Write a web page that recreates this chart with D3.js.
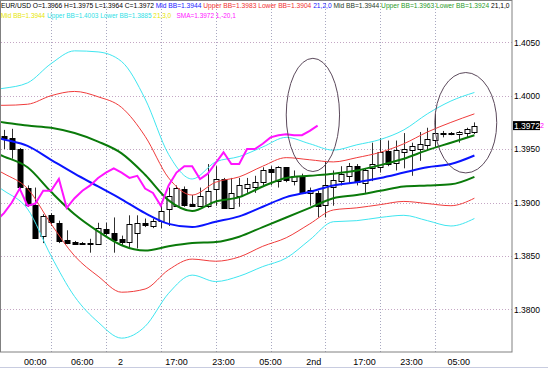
<!DOCTYPE html>
<html>
<head>
<meta charset="utf-8">
<script src="https://cdn.jsdelivr.net/npm/d3@7"></script>
<style>
  body { margin: 0; background: #fff; }
  text { font-family: "Liberation Sans", Arial, sans-serif; }
</style>
</head>
<body>
<div id="chart"></div>
<script>
// EUR/USD H1 candles
const opens = [1.3962,1.3960,1.3950,1.3914,1.3898,1.3868,1.3888,1.3881,1.3865,1.3863,
  1.3862,1.3862,1.3861,1.3875,1.3871,1.3866,1.3863,1.3872,1.3881,1.3878,
  1.3883,1.3894,1.3897,1.3913,1.3899,1.3897,1.3897,1.3913,1.3922,1.3895,
  1.3906,1.3913,1.3914,1.3919,1.3931,1.3920,1.3933,1.3920,1.3924,1.3909,
  1.3909,1.3897,1.3914,1.3920,1.3925,1.3934,1.3918,1.3932,1.3933,1.3948,
  1.3937,1.3947,1.3949,1.3950,1.3953,1.3958,1.3965,1.3965,1.3964,1.3965,1.3966];
const highs = [1.3968,1.3969,1.3951,1.3916,1.3914,1.3889,1.3890,1.3883,1.3874,1.3864,
  1.3863,1.3866,1.3881,1.3881,1.3886,1.3869,1.3888,1.3888,1.3885,1.3885,
  1.3900,1.3914,1.3916,1.3915,1.3907,1.3914,1.3936,1.3934,1.3923,1.3923,
  1.3923,1.3923,1.3925,1.3933,1.3934,1.3934,1.3933,1.3930,1.3927,1.3914,
  1.3911,1.3939,1.3930,1.3934,1.3937,1.3936,1.3932,1.3956,1.3960,1.3958,
  1.3958,1.3965,1.3956,1.3966,1.3970,1.3983,1.3967,1.3966,1.3967,1.3970,1.3975];
const lows = [1.3950,1.3941,1.3911,1.3896,1.3867,1.3862,1.3878,1.3862,1.3861,1.3861,
  1.3861,1.3853,1.3861,1.3869,1.3853,1.3860,1.3858,1.3857,1.3877,1.3876,
  1.3876,1.3878,1.3897,1.3896,1.3896,1.3896,1.3895,1.3897,1.3894,1.3894,
  1.3896,1.3909,1.3909,1.3916,1.3916,1.3914,1.3919,1.3916,1.3908,1.3897,
  1.3886,1.3886,1.3897,1.3916,1.3918,1.3916,1.3909,1.3920,1.3928,1.3934,
  1.3930,1.3932,1.3925,1.3939,1.3949,1.3951,1.3961,1.3963,1.3956,1.3961,1.3964];
const closes = [1.3960,1.3950,1.3914,1.3898,1.3867,1.3887,1.3881,1.3864,1.3862,1.3861,
  1.3862,1.3862,1.3876,1.3871,1.3864,1.3863,1.3880,1.3881,1.3879,1.3883,
  1.3892,1.3906,1.3914,1.3898,1.3897,1.3906,1.3911,1.3922,1.3895,1.3909,
  1.3916,1.3917,1.3919,1.3930,1.3928,1.3933,1.3921,1.3925,1.3909,1.3912,
  1.3897,1.3916,1.3921,1.3927,1.3934,1.3919,1.3930,1.3936,1.3947,1.3936,
  1.3949,1.3950,1.3953,1.3955,1.3959,1.3965,1.3964,1.3964,1.3966,1.3969,1.3972];

// Bollinger bands read at these bar indexes
const bandIdx = [-1,0,3,6,9,12,15,18,21,24,27,30,33,36,39,42,45,48,51,54,57,60];
const cyanUp   = [1.4006,1.4007,1.4012,1.4030,1.4042,1.4041,1.4032,1.3997,1.3945,1.3922,1.3938,1.3943,1.3952,1.3961,1.3955,1.3949,1.3954,1.3959,1.3968,1.3983,1.3995,1.4003];
const redUp    = [1.3991,1.3991,1.3992,1.4000,1.4004,1.3999,1.3989,1.3962,1.3923,1.3907,1.3919,1.3924,1.3934,1.3942,1.3940,1.3938,1.3942,1.3947,1.3955,1.3966,1.3975,1.3983];
const greenUp  = [1.3976,1.3975,1.3972,1.3970,1.3965,1.3957,1.3946,1.3926,1.3902,1.3892,1.3901,1.3905,1.3915,1.3923,1.3925,1.3927,1.3930,1.3935,1.3941,1.3949,1.3956,1.3963];
const midBB    = [1.3961,1.3959,1.3953,1.3940,1.3927,1.3915,1.3903,1.3890,1.3880,1.3877,1.3882,1.3887,1.3896,1.3905,1.3910,1.3916,1.3919,1.3923,1.3928,1.3933,1.3936,1.3944];
const greenLow = [1.3946,1.3943,1.3933,1.3910,1.3889,1.3873,1.3860,1.3855,1.3859,1.3862,1.3863,1.3868,1.3877,1.3886,1.3895,1.3904,1.3907,1.3911,1.3915,1.3916,1.3917,1.3924];
const redLow   = [1.3931,1.3927,1.3913,1.3880,1.3850,1.3831,1.3816,1.3819,1.3837,1.3847,1.3845,1.3849,1.3859,1.3867,1.3880,1.3893,1.3895,1.3898,1.3901,1.3899,1.3897,1.3904];
const cyanLow  = [1.3916,1.3911,1.3894,1.3850,1.3812,1.3788,1.3773,1.3784,1.3815,1.3832,1.3826,1.3831,1.3840,1.3848,1.3865,1.3882,1.3883,1.3886,1.3888,1.3883,1.3878,1.3885];

// SMA(1) shifted -20, bars -1..40
const smaIdx = d3.range(-1, 41);
const smaVals = [1.3883,1.3890,1.3900,1.3913,1.3897,1.3899,1.3911,1.3911,1.3922,1.3895,
  1.3904,1.3911,1.3916,1.3923,1.3928,1.3932,1.3928,1.3923,1.3925,1.3913,
  1.3909,1.3897,1.3916,1.3928,1.3934,1.3934,1.3922,1.3927,1.3937,1.3947,
  1.3936,1.3936,1.3950,1.3950,1.3955,1.3961,1.3963,1.3964,1.3963,1.3963,
  1.3967,1.3972];

const priceTicks = [1.4050, 1.4000, 1.3950, 1.3900, 1.3850, 1.3800];
const gridIdx = [6, 13, 20, 27, 34, 41, 48, 55];
const timeIdx = [3, 9, 15, 21, 27, 33, 39, 45, 51, 57];
const timeLabels = ["00:00", "06:00", "2", "17:00", "23:00", "05:00", "2nd", "17:00", "23:00", "05:00"];
const lastPrice = 1.3972;

const width = 548, height = 368;
const plotW = 512, plotH = 352;

const svg = d3.select("#chart")
  .append("svg")
  .attr("width", width)
  .attr("height", height)
  .style("display", "block");

const x = d3.scaleLinear().domain([0, 60]).range([4, 474.4]);
const y = d3.scaleLinear().domain([1.38, 1.405]).range([309.3, 42.3]);

svg.append("clipPath").attr("id", "plot-clip")
  .append("rect").attr("x", 0).attr("y", 0).attr("width", plotW).attr("height", plotH);

// grid
svg.append("g")
  .selectAll("line")
  .data(priceTicks)
  .enter()
  .append("line")
  .attr("x1", 1).attr("x2", plotW)
  .attr("y1", d => Math.round(y(d)) + 0.5)
  .attr("y2", d => Math.round(y(d)) + 0.5)
  .attr("stroke", "#c4a6c4")
  .attr("stroke-dasharray", "1,2");

svg.append("g")
  .selectAll("line")
  .data(gridIdx)
  .enter()
  .append("line")
  .attr("x1", d => Math.round(x(d)) + 0.5)
  .attr("x2", d => Math.round(x(d)) + 0.5)
  .attr("y1", 0).attr("y2", plotH)
  .attr("stroke", "#a8a8c0")
  .attr("stroke-dasharray", "1,2");

const plot = svg.append("g").attr("clip-path", "url(#plot-clip)");

// candles
const bars = d3.range(opens.length);
plot.append("g")
  .selectAll("line")
  .data(bars)
  .enter()
  .append("line")
  .attr("x1", i => Math.round(x(i)) + 0.5)
  .attr("x2", i => Math.round(x(i)) + 0.5)
  .attr("y1", i => y(highs[i]))
  .attr("y2", i => y(lows[i]))
  .attr("stroke", "#303030");

plot.append("g")
  .selectAll("rect")
  .data(bars)
  .enter()
  .append("rect")
  .attr("x", i => Math.round(x(i)) - 2)
  .attr("y", i => Math.round(y(Math.max(opens[i], closes[i]))) + 0.5)
  .attr("width", 5)
  .attr("height", i => Math.max(1, Math.round(Math.abs(y(opens[i]) - y(closes[i])))))
  .attr("fill", i => closes[i] >= opens[i] ? "#fff" : "#000")
  .attr("stroke", "#000")
  .attr("stroke-width", 1);

// indicator lines
const bandLine = d3.line()
  .x(d => x(d[0]))
  .y(d => y(d[1]))
  .curve(d3.curveMonotoneX);

const series = [
  { vals: cyanLow,  color: "#3fe6f0", w: 1 },
  { vals: cyanUp,   color: "#3fe6f0", w: 1 },
  { vals: redLow,   color: "#f03c3c", w: 1 },
  { vals: redUp,    color: "#f03c3c", w: 1 },
  { vals: greenLow, color: "#0a7a0a", w: 2 },
  { vals: greenUp,  color: "#0a7a0a", w: 2 },
  { vals: midBB,    color: "#0a14ff", w: 2 }
];

series.forEach(s => {
  plot.append("path")
    .datum(bandIdx.map((b, k) => [b, s.vals[k]]))
    .attr("fill", "none")
    .attr("stroke", s.color)
    .attr("stroke-width", s.w)
    .attr("d", bandLine);
});

plot.append("path")
  .datum(smaIdx.map((b, k) => [b, smaVals[k]]))
  .attr("fill", "none")
  .attr("stroke", "#ff14ff")
  .attr("stroke-width", 2)
  .attr("d", d3.line().x(d => x(d[0])).y(d => y(d[1])));

// hand drawn ellipses
const marks = [
  { i: 39.4, p: 1.3982, di: 3.4, dp: 0.0053 },
  { i: 58.9, p: 1.39747, di: 3.95, dp: 0.0047 }
];
plot.append("g")
  .selectAll("ellipse")
  .data(marks)
  .enter()
  .append("ellipse")
  .attr("cx", d => x(d.i))
  .attr("cy", d => y(d.p))
  .attr("rx", d => x(d.i + d.di) - x(d.i))
  .attr("ry", d => y(d.p - d.dp) - y(d.p))
  .attr("fill", "none")
  .attr("stroke", "#5c4a5c")
  .attr("stroke-width", 1);

// frame
svg.append("rect")
  .attr("x", 0.5).attr("y", 0.5)
  .attr("width", plotW - 0.5).attr("height", plotH - 0.5)
  .attr("fill", "none")
  .attr("stroke", "#808080");

svg.append("line")
  .attr("x1", 0).attr("x2", width)
  .attr("y1", 367.5).attr("y2", 367.5)
  .attr("stroke", "#c8cce0");

// price axis
const yAxis = svg.append("g")
  .attr("transform", `translate(${plotW},0)`)
  .call(d3.axisRight(y).tickValues(priceTicks).tickSize(0).tickPadding(2).tickFormat(d3.format(".4f")));
yAxis.select(".domain").remove();
yAxis.selectAll("text")
  .attr("fill", "#000")
  .style("font-size", "8.5px")
  .style("font-family", "'Liberation Sans', Arial, sans-serif");

// current price box
const py = y(lastPrice);
svg.append("rect")
  .attr("x", 513).attr("y", py - 4.5)
  .attr("width", 27).attr("height", 9)
  .attr("fill", "#000");
svg.append("text")
  .attr("x", 514).attr("y", py)
  .attr("dominant-baseline", "central")
  .attr("fill", "#fff")
  .style("font-size", "8.5px")
  .text(d3.format(".4f")(lastPrice));
svg.append("text")
  .attr("x", 540).attr("y", py)
  .attr("dominant-baseline", "central")
  .attr("fill", "#ff00ff")
  .style("font-size", "7px")
  .text("2");

// time axis
const xAxis = svg.append("g")
  .attr("transform", `translate(0,${plotH})`)
  .call(d3.axisBottom(x).tickValues(timeIdx).tickSize(0).tickPadding(7).tickFormat((d, i) => timeLabels[i]));
xAxis.select(".domain").remove();
xAxis.selectAll("text")
  .attr("text-anchor", "start")
  .attr("x", -4)
  .attr("fill", "#000")
  .style("font-size", "9px")
  .style("font-family", "'Liberation Sans', Arial, sans-serif");

// header lines
const header1 = [
  ["EUR/USD O=1.3966 H=1.3975 L=1.3964 C=1.3972 ", "#000000"],
  ["Mid BB=1.3944 ", "#1a1aff"],
  ["Upper BB=1.3983 Lower BB=1.3904 ", "#f03030"],
  ["21,2,0 ", "#1a1aff"],
  ["Mid BB=1.3944 ", "#1e3a1e"],
  ["Upper BB=1.3963 Lower BB=1.3924 ", "#2a9a2a"],
  ["21,1,0", "#000000"]
];
const header2 = [
  ["Mid BB=1.3944 ", "#e6e600"],
  ["Upper BB=1.4003 Lower BB=1.3885 ", "#2ee0e6"],
  ["21,3,0", "#e6e600"],
  ["   SMA=1.3972 1,-20,1", "#ff14ff"]
];

function headerLine(parts, yPos, target) {
  const t = svg.append("text")
    .attr("x", 1).attr("y", yPos)
    .style("font-size", "8px")
    .style("white-space", "pre");
  parts.forEach(p => t.append("tspan").attr("fill", p[1]).text(p[0]));
  const len = t.node().getComputedTextLength();
  t.style("font-size", (8 * target / len) + "px");
}
headerLine(header1, 8, 510);
headerLine(header2, 17.5, 235);
</script>
</body>
</html>
